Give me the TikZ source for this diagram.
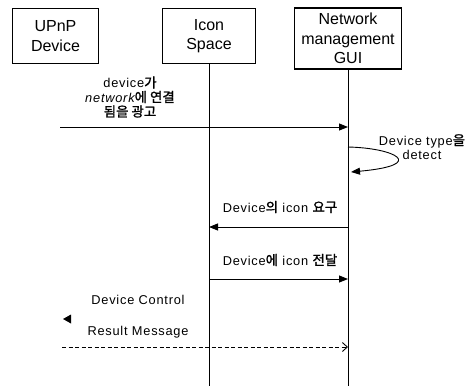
\documentclass[tikz,border=0pt]{standalone}
\usepackage{fontspec}
\setmainfont{Liberation Sans}
\newfontfamily\lblfont[LetterSpace=6]{Liberation Sans}
\newfontfamily\kr[Scale=1.05, FakeBold=1.5]{Noto Sans CJK KR}
\usetikzlibrary{arrows.meta}

\begin{document}
\begin{tikzpicture}[x=1pt, y=-1pt, line width=0.9pt,
  actor/.style={draw, line width=1.1pt, align=center, inner sep=0pt,
    font=\fontsize{16}{19.5}\selectfont},
  msg/.style={align=center, font=\lblfont\fontsize{12.8}{14.5}\selectfont},
  sync/.style={-{Triangle[length=9pt,width=7pt]}},
  reply/.style={dash pattern=on 4pt off 2.5pt, -{Straight Barb[length=5pt,width=9pt]}}]
  \useasboundingbox (0,0) rectangle (471,386);
  \node[actor, minimum width=86, minimum height=55] (upnp) at (55.5,36) {UPnP\\Device};
  \node[actor, minimum width=93, minimum height=55] (icon) at (209,36) {Icon\\Space};
  \node[actor, minimum width=107, minimum height=61] (gui) at (348,38.5) {Network\\management\\GUI};
  \coordinate (iconEnd) at (209,386);
  \coordinate (guiEnd) at (348,386);
  \draw (icon.south) -- (iconEnd);
  \draw (gui.south) -- (guiEnd);

  \coordinate (adFrom) at (60,127);
  \coordinate (adTo) at (348,127);
  \draw[sync] (adFrom) -- (adTo);
  \node[msg] (adLbl) at (130,97) {device{\kr 가}\\{\itshape network}{\kr 에 연결}\\{\kr 됨을 광고}};

  \coordinate (detOut) at (348,147);
  \coordinate (detIn) at (351,172);
  \draw[sync] (detOut) .. controls (395,148) and (428,165) .. (detIn);
  \node[msg] (detLbl) at (422,147) {Device type{\kr 을}\\detect};

  \coordinate (reqFrom) at (348,227);
  \coordinate (reqTo) at (209,227);
  \draw[sync] (reqFrom) -- (reqTo);
  \node[msg] (reqLbl) at (280,207) {Device{\kr 의} icon {\kr 요구}};

  \coordinate (sendFrom) at (209,279);
  \coordinate (sendTo) at (348,279);
  \draw[sync] (sendFrom) -- (sendTo);
  \node[msg] (sendLbl) at (280,260) {Device{\kr 에} icon {\kr 전달}};

  \node[msg] (ctrlLbl) at (138,300) {Device Control};
  \fill (63,319) -- (71,314.5) -- (71,323.5) -- cycle;
  \node[msg] (resLbl) at (138,332) {Result Message};
  \coordinate (resFrom) at (62,347);
  \coordinate (resTo) at (348,347);
  \draw[reply] (resFrom) -- (resTo);
\end{tikzpicture}
\end{document}
